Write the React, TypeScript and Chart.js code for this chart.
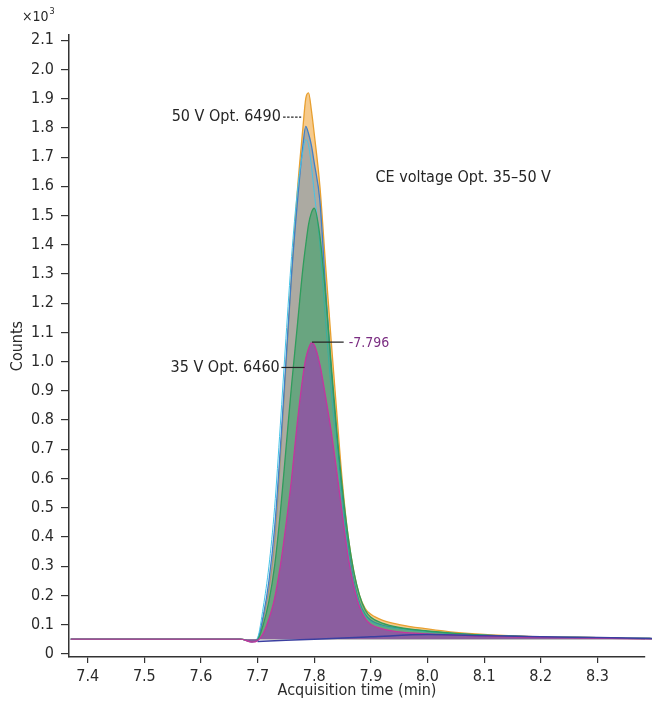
import React, { useEffect, useRef } from "react";
import { Chart, registerables } from "chart.js";

Chart.register(...registerables);

const FONT = "'Liberation Sans Narrow', 'DejaVu Sans Condensed', 'Roboto', sans-serif";

// Acquisition time (min)
const timeMin = [
  7.37, 7.5, 7.6, 7.67, 7.69, 7.7, 7.71, 7.72, 7.73, 7.74, 7.75, 7.76, 7.77, 7.78, 7.785, 7.79, 7.795,
  7.8, 7.81, 7.82, 7.83, 7.84, 7.85, 7.86, 7.87, 7.88, 7.89, 7.9, 7.92, 7.95, 8.0, 8.05, 8.1, 8.15,
  8.2, 8.25, 8.3, 8.35, 8.41,
];

// Counts (x10^3)
const counts50V = [
  0.05, 0.05, 0.05, 0.05, 0.042, 0.05, 0.12, 0.22, 0.38, 0.66, 0.98, 1.3, 1.58, 1.8, 1.9, 1.92, 1.86,
  1.78, 1.6, 1.33, 1.07, 0.82, 0.58, 0.4, 0.28, 0.2, 0.155, 0.135, 0.115, 0.1, 0.085, 0.073, 0.066,
  0.062, 0.058, 0.057, 0.055, 0.053, 0.052,
];
const countsBlue = [
  0.05, 0.05, 0.05, 0.05, 0.042, 0.05, 0.13, 0.25, 0.43, 0.7, 1.0, 1.3, 1.54, 1.74, 1.805, 1.78, 1.74,
  1.68, 1.55, 1.25, 0.97, 0.74, 0.53, 0.37, 0.25, 0.175, 0.135, 0.115, 0.098, 0.088, 0.077, 0.069,
  0.064, 0.06, 0.057, 0.056, 0.055, 0.053, 0.052,
];
const countsCyan = [
  0.05, 0.05, 0.05, 0.05, 0.04, 0.055, 0.16, 0.3, 0.5, 0.78, 1.08, 1.36, 1.58, 1.72, 1.76, 1.74, 1.67,
  1.58, 1.4, 1.14, 0.9, 0.69, 0.5, 0.35, 0.24, 0.17, 0.13, 0.11, 0.095, 0.085, 0.075, 0.068, 0.063,
  0.06, 0.057, 0.056, 0.055, 0.053, 0.052,
];
const countsGreen = [
  0.05, 0.05, 0.05, 0.05, 0.042, 0.048, 0.1, 0.18, 0.3, 0.48, 0.7, 0.92, 1.12, 1.32, 1.4, 1.47, 1.51,
  1.525, 1.43, 1.23, 0.99, 0.76, 0.56, 0.4, 0.28, 0.2, 0.15, 0.125, 0.105, 0.09, 0.078, 0.07, 0.064,
  0.06, 0.057, 0.056, 0.055, 0.053, 0.052,
];
const counts35V = [
  0.05, 0.05, 0.05, 0.05, 0.04, 0.045, 0.07, 0.12, 0.19, 0.3, 0.44, 0.6, 0.79, 0.95, 1.01, 1.045, 1.064,
  1.058, 0.99, 0.88, 0.76, 0.62, 0.47, 0.33, 0.23, 0.16, 0.12, 0.1, 0.085, 0.075, 0.068, 0.064, 0.06,
  0.058, 0.056, 0.055, 0.054, 0.052, 0.051,
];

// Integration baseline
const baselineTime = [7.7, 7.8, 7.9, 8.0, 8.1, 8.2, 8.3, 8.41];
const baselineCounts = [0.042, 0.05, 0.058, 0.066, 0.062, 0.058, 0.056, 0.052];

const xTicks = [7.4, 7.5, 7.6, 7.7, 7.8, 7.9, 8.0, 8.1, 8.2, 8.3];
const yTicks = [
  0, 0.1, 0.2, 0.3, 0.4, 0.5, 0.6, 0.7, 0.8, 0.9, 1.0, 1.1, 1.2, 1.3, 1.4, 1.5, 1.6, 1.7, 1.8, 1.9,
  2.0, 2.1,
];

const pts = (xs: number[], ys: number[]) => xs.map((x, i) => ({ x, y: ys[i] }));

const annotationPlugin = {
  id: "annotations",
  afterDatasetsDraw(chart: any) {
    const { ctx, scales, chartArea } = chart;
    const x = scales.x;
    const y = scales.y;
    const X = (v: number) => x.getPixelForValue(v);
    const Y = (v: number) => y.getPixelForValue(v);
    ctx.save();
    ctx.textBaseline = "middle";
    ctx.fillStyle = "#262626";
    ctx.strokeStyle = "#262626";
    ctx.font = `16px ${FONT}`;

    // 50 V label with dashed leader
    ctx.textAlign = "right";
    ctx.fillText("50 V Opt. 6490", X(7.741), Y(1.837));
    ctx.lineWidth = 1.2;
    ctx.setLineDash([2.5, 1.5]);
    ctx.beginPath();
    ctx.moveTo(X(7.745), Y(1.837));
    ctx.lineTo(X(7.777), Y(1.837));
    ctx.stroke();
    ctx.setLineDash([]);

    // 35 V label with solid leader
    ctx.fillText("35 V Opt. 6460", X(7.739), Y(0.98));
    ctx.beginPath();
    ctx.moveTo(X(7.742), Y(0.98));
    ctx.lineTo(X(7.783), Y(0.98));
    ctx.stroke();

    // retention time marker
    ctx.beginPath();
    ctx.moveTo(X(7.796), Y(1.067));
    ctx.lineTo(X(7.852), Y(1.067));
    ctx.stroke();
    ctx.textAlign = "left";
    ctx.fillStyle = "#7b2d82";
    ctx.font = `14px ${FONT}`;
    ctx.fillText("-7.796", X(7.861), Y(1.064));

    // note
    ctx.fillStyle = "#262626";
    ctx.font = `16px ${FONT}`;
    ctx.fillText("CE voltage Opt. 35\u201350 V", X(7.908), Y(1.628));

    // multiplier
    ctx.font = `14px ${FONT}`;
    ctx.textAlign = "left";
    const base = "\u00d710";
    const left = chartArea.left - 47;
    ctx.fillText(base, left, 17);
    const w = ctx.measureText(base).width;
    ctx.font = `9px ${FONT}`;
    ctx.fillText("3", left + w + 1, 12);
    ctx.restore();
  },
};

export default function App() {
  const canvasRef = useRef<HTMLCanvasElement | null>(null);

  useEffect(() => {
    document.body.style.margin = "0";
    const canvas = canvasRef.current;
    if (!canvas) return;

    const common = {
      pointRadius: 0,
      borderWidth: 1.3,
      cubicInterpolationMode: "monotone" as const,
      clip: { left: 0, top: 10, right: 12, bottom: 0 },
    };

    const chart = new Chart(canvas, {
      type: "line",
      data: {
        datasets: [
          {
            ...common,
            label: "Baseline",
            data: pts(baselineTime, baselineCounts),
            borderColor: "#3b3fa0",
            borderWidth: 1.5,
            fill: false,
          },
          {
            ...common,
            label: "35 V",
            data: pts(timeMin, counts35V),
            borderColor: "#c4369e",
            backgroundColor: "rgba(150, 72, 170, 0.76)",
            fill: { value: 0.05 },
          },
          {
            ...common,
            label: "Green",
            data: pts(timeMin, countsGreen),
            borderColor: "#2f9d5c",
            backgroundColor: "rgba(50, 160, 100, 0.55)",
            fill: { value: 0.05 },
          },
          {
            ...common,
            label: "Cyan",
            data: pts(timeMin, countsCyan),
            borderColor: "#45c3e6",
            borderWidth: 1,
            fill: false,
          },
          {
            ...common,
            label: "Blue",
            data: pts(timeMin, countsBlue),
            borderColor: "#3f7fc8",
            backgroundColor: "rgba(100, 140, 185, 0.5)",
            fill: { value: 0.05 },
          },
          {
            ...common,
            label: "50 V",
            data: pts(timeMin, counts50V),
            borderColor: "#e8a030",
            backgroundColor: "rgba(240, 170, 70, 0.62)",
            fill: { value: 0.05 },
          },
        ],
      },
      options: {
        responsive: false,
        animation: false,
        devicePixelRatio: 1,
        layout: { padding: { top: 35, right: 7, left: 0, bottom: 0 } },
        plugins: {
          legend: { display: false },
          tooltip: { enabled: false },
        },
        scales: {
          x: {
            type: "linear",
            min: 7.367,
            max: 8.384,
            afterBuildTicks: (scale: any) => {
              scale.ticks = xTicks.map((v) => ({ value: v }));
            },
            afterFit: (scale: any) => {
              scale.height = 49;
            },
            border: { display: true, color: "#333", width: 1.5 },
            grid: {
              display: true,
              drawOnChartArea: false,
              drawTicks: true,
              tickLength: 6,
              color: "#333",
              lineWidth: 1.2,
            },
            ticks: {
              color: "#2a2a2a",
              font: { family: FONT, size: 16 },
              padding: 4,
              maxRotation: 0,
              autoSkip: false,
              callback: (v: any) => Number(v).toFixed(1),
            },
            title: {
              display: true,
              text: "Acquisition time (min)",
              color: "#2a2a2a",
              font: { family: FONT, size: 16 },
              padding: { top: 6, bottom: 6 },
            },
          },
          y: {
            type: "linear",
            min: -0.011,
            max: 2.118,
            afterBuildTicks: (scale: any) => {
              scale.ticks = yTicks.map((v) => ({ value: v }));
            },
            afterFit: (scale: any) => {
              scale.width = 69;
            },
            border: { display: true, color: "#333", width: 1.5 },
            grid: {
              display: true,
              drawOnChartArea: false,
              drawTicks: true,
              tickLength: 8,
              color: "#333",
              lineWidth: 1.2,
            },
            ticks: {
              color: "#2a2a2a",
              font: { family: FONT, size: 16 },
              padding: 7,
              autoSkip: false,
              callback: (v: any) => (Number(v) === 0 ? "0" : Number(v).toFixed(1)),
            },
            title: {
              display: true,
              text: "Counts",
              color: "#2a2a2a",
              font: { family: FONT, size: 16 },
              padding: { top: 8, bottom: 0 },
            },
          },
        },
      },
      plugins: [annotationPlugin],
    });

    return () => chart.destroy();
  }, []);

  return (
    <div style={{ width: 652, height: 706 }}>
      <canvas ref={canvasRef} width={652} height={706} style={{ display: "block" }} />
    </div>
  );
}
